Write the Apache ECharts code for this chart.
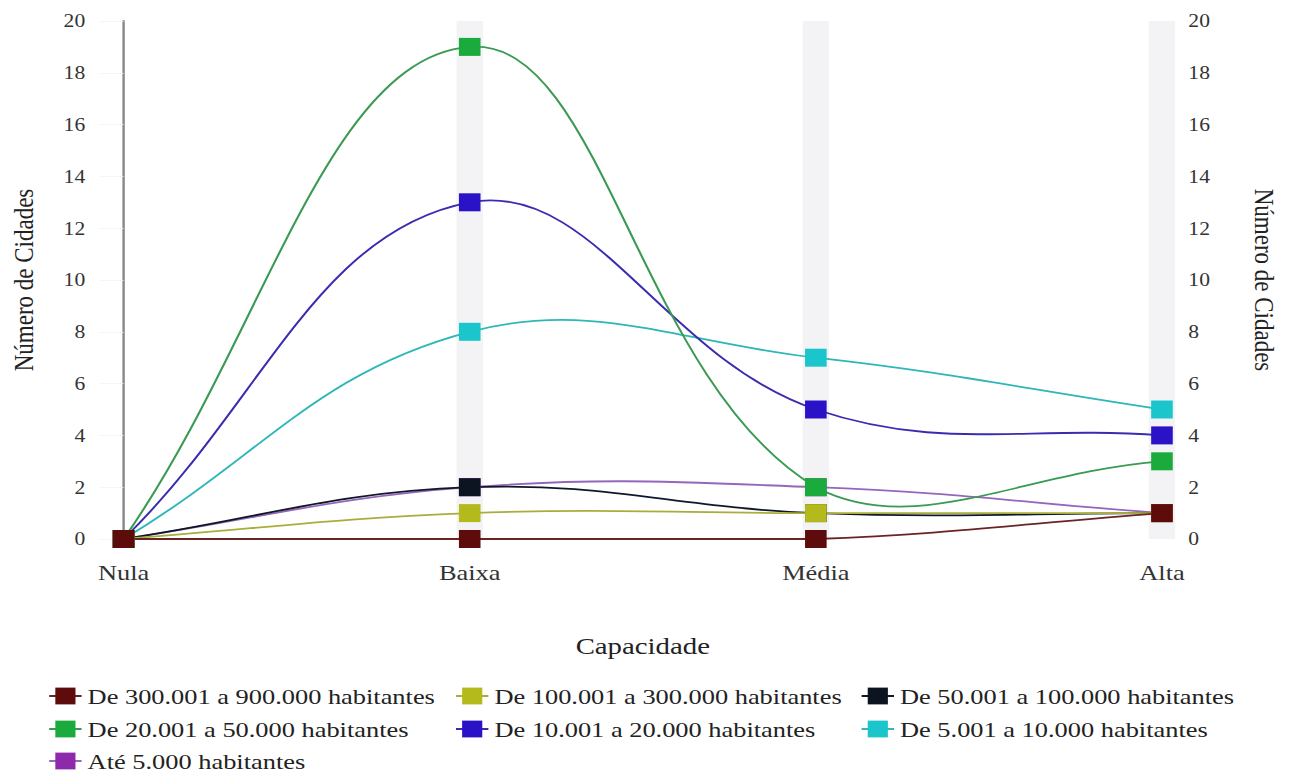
<!DOCTYPE html>
<html><head><meta charset="utf-8">
<script src="https://cdn.jsdelivr.net/npm/echarts@6/dist/echarts.min.js"></script>
<style>
html,body{margin:0;padding:0;background:#fff;overflow:hidden}
#wrap{width:1290px;height:775px;overflow:hidden}
#c{width:1075px;height:775px;transform:scaleX(1.2);transform-origin:0 0}
</style>
</head><body><div id="wrap"><div id="c"></div></div>
<script>
const categories = ['Nula', 'Baixa', 'Média', 'Alta'];
const yTicks = [0, 2, 4, 6, 8, 10, 12, 14, 16, 18, 20];
const names = [
  'De 300.001 a 900.000 habitantes',
  'De 100.001 a 300.000 habitantes',
  'De 50.001 a 100.000 habitantes',
  'De 20.001 a 50.000 habitantes',
  'De 10.001 a 20.000 habitantes',
  'De 5.001 a 10.000 habitantes',
  'Até 5.000 habitantes'
];
const s300_900 = [0, 0, 0, 1];
const s100_300 = [0, 1, 1, 1];
const s50_100 = [0, 2, 1, 1];
const s20_50 = [0, 19, 2, 3];
const s10_20 = [0, 13, 5, 4];
const s5_10 = [0, 8, 7, 5];
const sAte5 = [0, 2, 2, 1];
const bandValues = [null, 20, 20, 20];

const values = [s300_900, s100_300, s50_100, s20_50, s10_20, s5_10, sAte5];
const colors = ['#5e0b0b', '#b4b91c', '#0b1420', '#1aab3c', '#2a12c6', '#1ac6cc', '#8d2aab'];
const lineColors = ['#6a2424', '#a9ad3a', '#101828', '#3a9a52', '#3a2cb0', '#2eb6b8', '#9466bc'];
const font = '"Liberation Serif", "Times New Roman", serif';
const TENSION = 0.4;

// tension spline drawn through the library's coordinate system (control points kept inside the plot)
function makeCurveRenderer(vals) {
  return function (params, api) {
    const pts = vals.map((v, i) => api.coord([i, v]));
    const yTop = api.coord([0, yTicks[yTicks.length - 1]])[1];
    const yBot = api.coord([0, yTicks[0]])[1];
    const clampY = y => Math.max(yTop, Math.min(yBot, y));
    const n = pts.length;
    const cps = pts.map((p, i) => {
      const prev = i > 0 ? pts[i - 1] : p;
      const next = i < n - 1 ? pts[i + 1] : p;
      const d01 = Math.hypot(p[0] - prev[0], p[1] - prev[1]);
      const d12 = Math.hypot(next[0] - p[0], next[1] - p[1]);
      let s01 = d01 / (d01 + d12), s12 = d12 / (d01 + d12);
      if (isNaN(s01)) s01 = 0;
      if (isNaN(s12)) s12 = 0;
      const fa = TENSION * s01, fb = TENSION * s12;
      return {
        prev: [p[0] - fa * (next[0] - prev[0]), clampY(p[1] - fa * (next[1] - prev[1]))],
        next: [p[0] + fb * (next[0] - prev[0]), clampY(p[1] + fb * (next[1] - prev[1]))]
      };
    });
    const children = [];
    for (let i = 0; i < n - 1; i++) {
      children.push({
        type: 'bezierCurve',
        shape: {
          x1: pts[i][0], y1: pts[i][1], x2: pts[i + 1][0], y2: pts[i + 1][1],
          cpx1: cps[i].next[0], cpy1: cps[i].next[1],
          cpx2: cps[i + 1].prev[0], cpy2: cps[i + 1].prev[1]
        },
        style: { stroke: api.visual('color'), lineWidth: 1.8, fill: null }
      });
    }
    return { type: 'group', children: children };
  };
}

const series = [];
series.push({
  type: 'bar', data: bandValues, barWidth: 22, silent: true, z: 0,
  itemStyle: { color: '#f3f3f5' }
});
for (let i = values.length - 1; i >= 0; i--) {
  series.push({
    name: 'curve' + i, type: 'custom', data: [0], silent: true,
    renderItem: makeCurveRenderer(values[i]),
    itemStyle: { color: lineColors[i] }, z: 5 + (values.length - i)
  });
}
for (let i = values.length - 1; i >= 0; i--) {
  series.push({
    name: names[i], type: 'line', data: values[i],
    symbol: 'rect', symbolSize: 18, showAllSymbol: true,
    lineStyle: { color: lineColors[i], width: 0, opacity: 0 },
    itemStyle: { color: colors[i], borderWidth: 0 },
    z: 20 + (values.length - i)
  });
}

const legendPos = [
  [40, 685], [379, 685], [717, 685],
  [40, 718], [379, 718], [717, 718],
  [40, 750]
];
const legends = names.map((nm, i) => ({
  left: legendPos[i][0], top: legendPos[i][1], padding: 0,
  itemWidth: 27, itemHeight: 21,
  textStyle: { fontFamily: font, fontSize: 22, color: '#222' },
  data: [{ name: nm, lineStyle: { color: lineColors[i], width: 2, opacity: 1 } }]
}));

const chart = echarts.init(document.getElementById('c'), null, { renderer: 'svg' });
chart.setOption({
  animation: false,
  grid: { left: 101.7, right: 106.7, top: 21, bottom: 236, containLabel: false },
  legend: legends,
  xAxis: {
    type: 'category', data: categories, boundaryGap: false,
    name: 'Capacidade', nameLocation: 'middle', nameGap: 95,
    nameTextStyle: { fontFamily: font, fontSize: 24, color: '#222' },
    axisLine: { show: false }, axisTick: { show: false },
    axisLabel: { fontFamily: font, fontSize: 22, color: '#333', margin: 22 }
  },
  yAxis: [
    {
      type: 'value', min: yTicks[0], max: yTicks[yTicks.length - 1], interval: 2,
      name: 'Número de Cidades', nameLocation: 'middle', nameRotate: 90, nameGap: 72,
      nameTextStyle: { fontFamily: font, fontSize: 23, color: '#222' },
      axisLine: { show: true, lineStyle: { color: '#888', width: 2 } },
      axisTick: { show: true, length: 20, lineStyle: { color: '#ececec', type: 'dotted' } },
      axisLabel: { fontFamily: font, fontSize: 18, color: '#333', margin: 32 },
      splitLine: { show: false }
    },
    {
      type: 'value', min: yTicks[0], max: yTicks[yTicks.length - 1], interval: 2, position: 'right',
      name: 'Número de Cidades', nameLocation: 'middle', nameRotate: -90, nameGap: 74,
      nameTextStyle: { fontFamily: font, fontSize: 23, color: '#222' },
      axisLine: { show: false }, axisTick: { show: false },
      axisLabel: { fontFamily: font, fontSize: 18, color: '#333', margin: 22 },
      splitLine: { show: false }
    }
  ],
  series: series
});
</script></body></html>
